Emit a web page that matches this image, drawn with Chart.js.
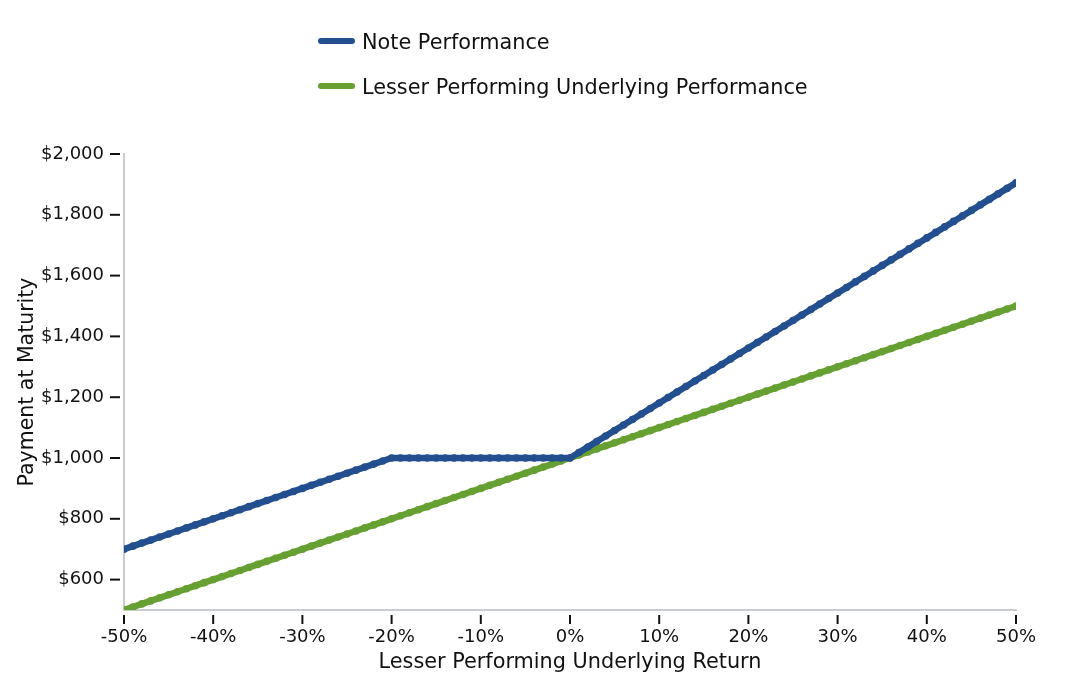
<!DOCTYPE html>
<html>
<head>
<meta charset="utf-8">
<script src="https://cdn.jsdelivr.net/npm/chart.js@4/dist/chart.umd.min.js"></script>
<style>
  html, body { margin: 0; padding: 0; background: #fff; }
  #wrap { position: relative; width: 1088px; height: 688px; }
  #legend { position: absolute; left: 318px; top: 26px; font-family: "DejaVu Sans", sans-serif; font-size: 20.8px; color: #111; }
  .item { position: absolute; left: 0; white-space: nowrap; height: 32px; line-height: 32px; }
  .swatch { display: inline-block; width: 37px; height: 6px; border-radius: 3px; vertical-align: middle; margin-right: 7px; position: relative; top: -2px; }
</style>
</head>
<body>
<div id="wrap">
  <canvas id="chart" width="1088" height="688"></canvas>
  <div id="legend"></div>
</div>
<script>
// lesser performing underlying return, in %
var returns = [
  -50, -49, -48, -47, -46, -45, -44, -43, -42, -41,
  -40, -39, -38, -37, -36, -35, -34, -33, -32, -31,
  -30, -29, -28, -27, -26, -25, -24, -23, -22, -21,
  -20, -19, -18, -17, -16, -15, -14, -13, -12, -11,
  -10, -9, -8, -7, -6, -5, -4, -3, -2, -1,
  0, 1, 2, 3, 4, 5, 6, 7, 8, 9,
  10, 11, 12, 13, 14, 15, 16, 17, 18, 19,
  20, 21, 22, 23, 24, 25, 26, 27, 28, 29,
  30, 31, 32, 33, 34, 35, 36, 37, 38, 39,
  40, 41, 42, 43, 44, 45, 46, 47, 48, 49,
  50
];

var notePayment = [
  700, 710, 720, 730, 740, 750, 760, 770, 780, 790,
  800, 810, 820, 830, 840, 850, 860, 870, 880, 890,
  900, 910, 920, 930, 940, 950, 960, 970, 980, 990,
  1000, 1000, 1000, 1000, 1000, 1000, 1000, 1000, 1000, 1000,
  1000, 1000, 1000, 1000, 1000, 1000, 1000, 1000, 1000, 1000,
  1000, 1018.1, 1036.2, 1054.3, 1072.4, 1090.5, 1108.6, 1126.7, 1144.8, 1162.9,
  1181, 1199.1, 1217.2, 1235.3, 1253.4, 1271.5, 1289.6, 1307.7, 1325.8, 1343.9,
  1362, 1380.1, 1398.2, 1416.3, 1434.4, 1452.5, 1470.6, 1488.7, 1506.8, 1524.9,
  1543, 1561.1, 1579.2, 1597.3, 1615.4, 1633.5, 1651.6, 1669.7, 1687.8, 1705.9,
  1724, 1742.1, 1760.2, 1778.3, 1796.4, 1814.5, 1832.6, 1850.7, 1868.8, 1886.9,
  1905
];

var underlyingPayment = [
  500, 510, 520, 530, 540, 550, 560, 570, 580, 590,
  600, 610, 620, 630, 640, 650, 660, 670, 680, 690,
  700, 710, 720, 730, 740, 750, 760, 770, 780, 790,
  800, 810, 820, 830, 840, 850, 860, 870, 880, 890,
  900, 910, 920, 930, 940, 950, 960, 970, 980, 990,
  1000, 1010, 1020, 1030, 1040, 1050, 1060, 1070, 1080, 1090,
  1100, 1110, 1120, 1130, 1140, 1150, 1160, 1170, 1180, 1190,
  1200, 1210, 1220, 1230, 1240, 1250, 1260, 1270, 1280, 1290,
  1300, 1310, 1320, 1330, 1340, 1350, 1360, 1370, 1380, 1390,
  1400, 1410, 1420, 1430, 1440, 1450, 1460, 1470, 1480, 1490,
  1500
];

var seriesNames = ['Note Performance', 'Lesser Performing Underlying Performance'];
var xTicks = [-50, -40, -30, -20, -10, 0, 10, 20, 30, 40, 50];
var yTicks = [600, 800, 1000, 1200, 1400, 1600, 1800, 2000];

var BLUE = '#244f8f';
var GREEN = '#67a032';
var AXIS = '#c9ccd0';
var FONT = '"DejaVu Sans", sans-serif';

function toPoints(vals) {
  var pts = [];
  for (var i = 0; i < returns.length; i++) {
    pts.push({ x: returns[i], y: vals[i] });
  }
  return pts;
}

function money(v) {
  return '$' + v.toLocaleString('en-US');
}

// html legend, two rows
var legend = document.getElementById('legend');
var colors = [BLUE, GREEN];
for (var i = 0; i < seriesNames.length; i++) {
  var row = document.createElement('div');
  row.className = 'item';
  row.style.top = (i * 45) + 'px';
  row.innerHTML = '<span class="swatch" style="background:' + colors[i] + '"></span>' + seriesNames[i];
  legend.appendChild(row);
}

// short tick marks detached from the axis lines
var tickMarks = {
  id: 'tickMarks',
  afterDraw: function(chart) {
    var ctx = chart.ctx;
    var xs = chart.scales.x, ys = chart.scales.y;
    var area = chart.chartArea;
    ctx.save();
    ctx.strokeStyle = '#111';
    ctx.lineWidth = 2;
    for (var i = 0; i < yTicks.length; i++) {
      var py = ys.getPixelForValue(yTicks[i]);
      ctx.beginPath();
      ctx.moveTo(area.left - 14, py);
      ctx.lineTo(area.left - 4, py);
      ctx.stroke();
    }
    for (var j = 0; j < xTicks.length; j++) {
      var px = xs.getPixelForValue(xTicks[j]);
      ctx.beginPath();
      ctx.moveTo(px, area.bottom + 5);
      ctx.lineTo(px, area.bottom + 14);
      ctx.stroke();
    }
    ctx.restore();
  }
};

var chart = new Chart(document.getElementById('chart').getContext('2d'), {
  type: 'line',
  data: {
    datasets: [{
      label: seriesNames[0],
      data: toPoints(notePayment),
      borderColor: BLUE,
      backgroundColor: BLUE,
      borderWidth: 6.5,
      pointRadius: 3.8,
      pointBorderWidth: 0,
      pointHoverRadius: 3.8,
      order: 1
    }, {
      label: seriesNames[1],
      data: toPoints(underlyingPayment),
      borderColor: GREEN,
      backgroundColor: GREEN,
      borderWidth: 6.5,
      pointRadius: 3.8,
      pointBorderWidth: 0,
      pointHoverRadius: 3.8,
      order: 2
    }]
  },
  options: {
    responsive: false,
    animation: false,
    layout: { padding: { top: 154, left: 0, right: 72, bottom: 0 } },
    plugins: { legend: { display: false }, tooltip: { enabled: false } },
    scales: {
      x: {
        type: 'linear',
        min: -50,
        max: 50,
        afterBuildTicks: function(s) { s.ticks = xTicks.map(function(v) { return { value: v }; }); },
        afterFit: function(s) { s.height = 78; },
        grid: { display: true, drawOnChartArea: false, drawTicks: false },
        border: { display: true, color: AXIS, width: 2 },
        ticks: {
          padding: 17,
          color: '#111',
          font: { family: FONT, size: 18 },
          maxRotation: 0,
          callback: function(v) { return v + '%'; }
        },
        title: {
          display: true,
          text: 'Lesser Performing Underlying Return',
          color: '#111',
          font: { family: FONT, size: 20.8 },
          padding: { top: 0, bottom: 13 }
        }
      },
      y: {
        type: 'linear',
        min: 500,
        max: 2000,
        afterBuildTicks: function(s) { s.ticks = yTicks.map(function(v) { return { value: v }; }); },
        afterFit: function(s) { s.width = 124; },
        grid: { display: true, drawOnChartArea: false, drawTicks: false },
        border: { display: true, color: AXIS, width: 2 },
        ticks: {
          padding: 20,
          color: '#111',
          font: { family: FONT, size: 18 },
          callback: function(v) { return money(v); }
        },
        title: {
          display: true,
          text: 'Payment at Maturity',
          color: '#111',
          font: { family: FONT, size: 20.5 },
          padding: { top: 15, bottom: 0 }
        }
      }
    }
  },
  plugins: [tickMarks]
});
</script>
</body>
</html>
